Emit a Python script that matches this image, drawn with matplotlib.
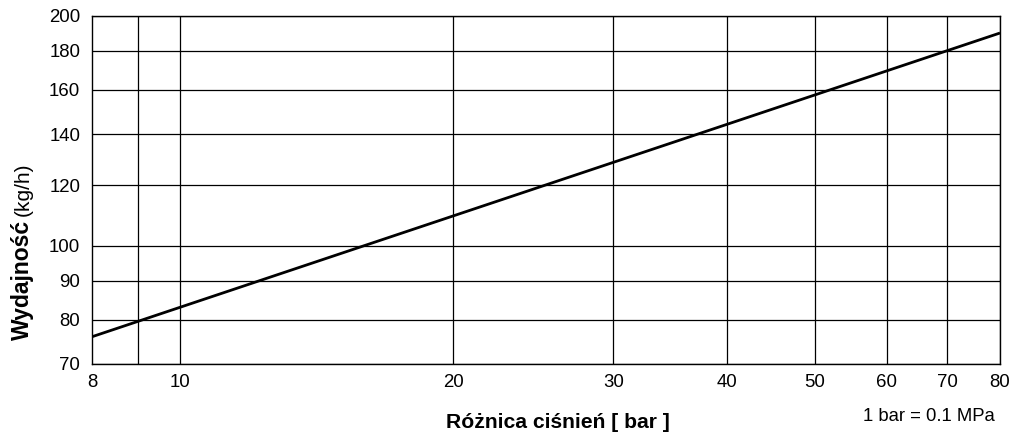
import matplotlib
matplotlib.use("Agg")
import matplotlib.pyplot as plt
from matplotlib.ticker import FixedLocator, NullLocator, FixedFormatter

plt.rcParams['font.family'] = ['Liberation Sans', 'DejaVu Sans']

# Data
pressure_bar = [8, 80]
capacity_kgh = [76, 190]
x_ticks = [8, 10, 20, 30, 40, 50, 60, 70, 80]
x_grid = [9, 10, 20, 30, 40, 50, 60, 70, 80]
y_ticks = [70, 80, 90, 100, 120, 140, 160, 180, 200]

W, H = 1011, 432
fig = plt.figure(figsize=(W / 100, H / 100), dpi=100)
ax = fig.add_axes([92 / W, 1 - 364 / H, (1000 - 92) / W, (364 - 16) / H])
ax.set_xscale('log')
ax.set_yscale('log')
ax.set_xlim(8, 80)
ax.set_ylim(70, 200)

ax.plot(pressure_bar, capacity_kgh, color='black', lw=2.0, solid_capstyle='butt', zorder=3)

for xv in x_grid:
    ax.axvline(xv, color='black', lw=0.9, zorder=1)
for yv in y_ticks:
    ax.axhline(yv, color='black', lw=0.9, zorder=1)

ax.xaxis.set_major_locator(FixedLocator(x_ticks))
ax.xaxis.set_major_formatter(FixedFormatter([str(v) for v in x_ticks]))
ax.xaxis.set_minor_locator(NullLocator())
ax.yaxis.set_major_locator(FixedLocator(y_ticks))
ax.yaxis.set_major_formatter(FixedFormatter([str(v) for v in y_ticks]))
ax.yaxis.set_minor_locator(NullLocator())
ax.tick_params(axis='both', length=0, labelsize=13.4, colors='black')
ax.tick_params(axis='x', pad=7)
ax.tick_params(axis='y', pad=8.5)
for s in ax.spines.values():
    s.set_color('black')
    s.set_linewidth(1.0)

fig.text(558 / W, 1 - 428 / H, 'Różnica ciśnień [ bar ]', ha='center', va='baseline',
         fontsize=15.2, fontweight='bold')
fig.text(995 / W, 1 - 421 / H, '1 bar = 0.1 MPa', ha='right', va='baseline', fontsize=13.3)

t1 = fig.text(22 / W, 1 - 340 / H, 'Wydajność', rotation=90, ha='center', va='bottom',
              fontsize=16.5, fontweight='bold')
fig.canvas.draw()
bb = t1.get_window_extent(renderer=fig.canvas.get_renderer())
fig.text(23 / W, (bb.y1 + 4) / H, '(kg/h)', rotation=90, ha='center', va='bottom', fontsize=15)

fig.savefig('out.png', dpi=100)
